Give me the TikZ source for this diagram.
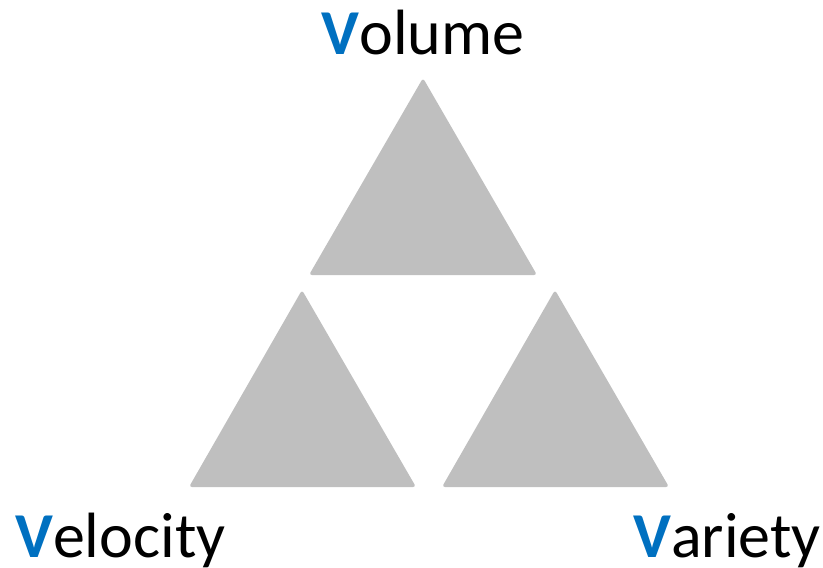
\documentclass[tikz,border=0pt]{standalone}
\usepackage{fontspec}
\setmainfont{Carlito}
\definecolor{vblue}{HTML}{0070C0}
\definecolor{trigray}{HTML}{BFBFBF}
\newcommand{\bigV}{{\bfseries\color{vblue}V}}
\begin{document}
\begin{tikzpicture}[x=1pt,y=-1pt,
  tri/.style={fill=trigray, rounded corners=3pt},
  label/.style={inner sep=0pt, font=\fontsize{64}{70}\selectfont}]
\useasboundingbox (0,0) rectangle (823,568);
% three triangles
\fill[tri] (423,78) -- (537,275) -- (309,275) -- cycle;
\fill[tri] (302,290) -- (416,487) -- (189,487) -- cycle;
\fill[tri] (555,290) -- (669,487) -- (442,487) -- cycle;
% labels
\node[label, anchor=base] (volume) at (423,54) {\bigV olume};
\node[label, anchor=base west] (velocity) at (15,557) {\bigV elocity};
\node[label, anchor=base east] (variety) at (821,557) {\bigV ariety};
\end{tikzpicture}
\end{document}
